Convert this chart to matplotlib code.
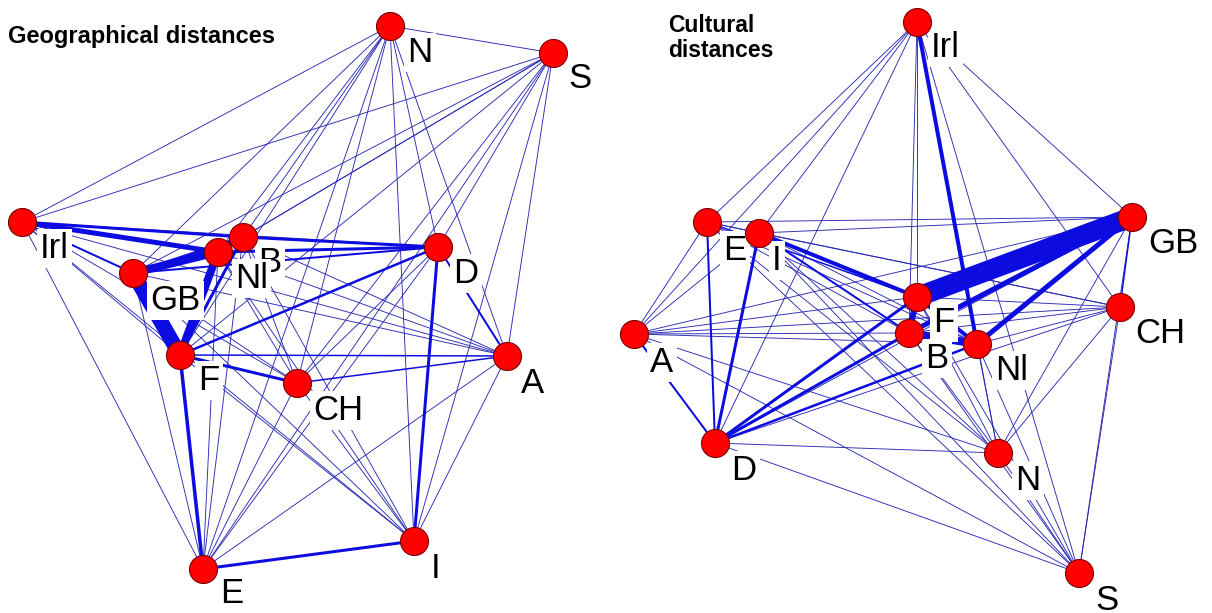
import matplotlib
matplotlib.use("Agg")
import matplotlib.pyplot as plt
from itertools import combinations

# ---------------- data ----------------
countries_left = ["N", "S", "Irl", "B", "Nl", "GB", "D", "F", "CH", "A", "E", "I"]
layout_left_x = [390, 553, 22, 243, 218, 133, 438, 180, 297, 507, 203, 414]
layout_left_y = [26, 53, 222, 237, 252, 273, 247, 355, 383, 356, 569, 541]
label_left_x = [407, 568, 40, 258, 235, 150, 453, 198, 313, 521, 220, 431]
label_left_y = [62, 88, 258, 272, 288, 310, 283, 390, 420, 393, 603, 578]

countries_right = ["Irl", "E", "I", "F", "A", "B", "Nl", "GB", "CH", "D", "N", "S"]
layout_right_x = [917, 707, 759, 917, 634, 909, 977, 1132, 1120, 715, 998, 1079]
layout_right_y = [22, 222, 233, 297, 334, 333, 344, 217, 307, 443, 453, 573]
label_right_x = [931, 723, 772, 933, 650, 925, 995, 1148, 1135, 731, 1015, 1095]
label_right_y = [57, 260, 270, 332, 372, 368, 380, 253, 343, 480, 490, 610]

# link strengths (pixel widths); all other pairs are weak links of strength 1
strong_left = {
    ("GB", "F"): 15, ("Nl", "F"): 8, ("B", "F"): 3, ("GB", "Nl"): 8,
    ("GB", "B"): 3, ("Irl", "Nl"): 5, ("Irl", "B"): 3, ("Irl", "GB"): 2,
    ("Nl", "B"): 4, ("Nl", "D"): 3, ("B", "D"): 3, ("GB", "D"): 2,
    ("F", "D"): 2.5, ("F", "E"): 3.5, ("F", "CH"): 3, ("E", "I"): 3,
    ("I", "D"): 3, ("D", "A"): 2, ("CH", "A"): 1.5, ("F", "A"): 1.5,
}
strong_right = {
    ("F", "GB"): 20, ("B", "GB"): 5, ("Nl", "GB"): 5, ("Irl", "Nl"): 4,
    ("B", "Nl"): 8, ("F", "B"): 6, ("F", "Nl"): 4, ("I", "F"): 4,
    ("E", "F"): 1.5, ("D", "F"): 3, ("D", "B"): 3, ("D", "Nl"): 2.5,
    ("D", "I"): 3, ("A", "D"): 2, ("D", "E"): 2, ("GB", "CH"): 1.5,
    ("I", "B"): 2,
}

title_left = "Geographical distances"
title_right = ["Cultural", "distances"]

# ---------------- drawing ----------------
W, H = 1212, 613
fig = plt.figure(figsize=(W / 100, H / 100), dpi=100)
ax = fig.add_axes([0, 0, 1, 1])
ax.set_xlim(0, W)
ax.set_ylim(H, 0)
ax.axis("off")

FONT = "Liberation Sans"
PX = 72 / 100  # px -> pt


def draw_graph(names, xs, ys, lx, ly, strong):
    pos = {n: (x, y) for n, x, y in zip(names, xs, ys)}
    for a, b in combinations(names, 2):
        w = strong.get((a, b), strong.get((b, a), 1))
        col = "#2a2ab4" if w <= 1 else "#0c0ce0"
        ax.plot([pos[a][0], pos[b][0]], [pos[a][1], pos[b][1]],
                color=col, lw=w * PX * (0.9 if w <= 1 else 1),
                solid_capstyle="butt", zorder=1 + (w > 1) * 0.5)
    for n, x, y in zip(names, lx, ly):
        ax.text(x, y, n, fontsize=25, family=FONT, ha="left", va="baseline",
                color="black", zorder=3,
                bbox=dict(facecolor="white", edgecolor="none", pad=2.5))
    ax.scatter(xs, ys, s=(28 * PX) ** 2, c="#ff0000", edgecolors="#7a0000",
               linewidths=0.8, zorder=4)


draw_graph(countries_left, layout_left_x, layout_left_y,
           label_left_x, label_left_y, strong_left)
draw_graph(countries_right, layout_right_x, layout_right_y,
           label_right_x, label_right_y, strong_right)

ax.text(8, 43, title_left, fontsize=17, family=FONT, fontweight="bold",
        ha="left", va="baseline", zorder=5)
for i, line in enumerate(title_right):
    ax.text(668, 32 + 25 * i, line, fontsize=16.5, family=FONT,
            fontweight="bold", ha="left", va="baseline", zorder=5)

fig.savefig("out.png", dpi=100)
